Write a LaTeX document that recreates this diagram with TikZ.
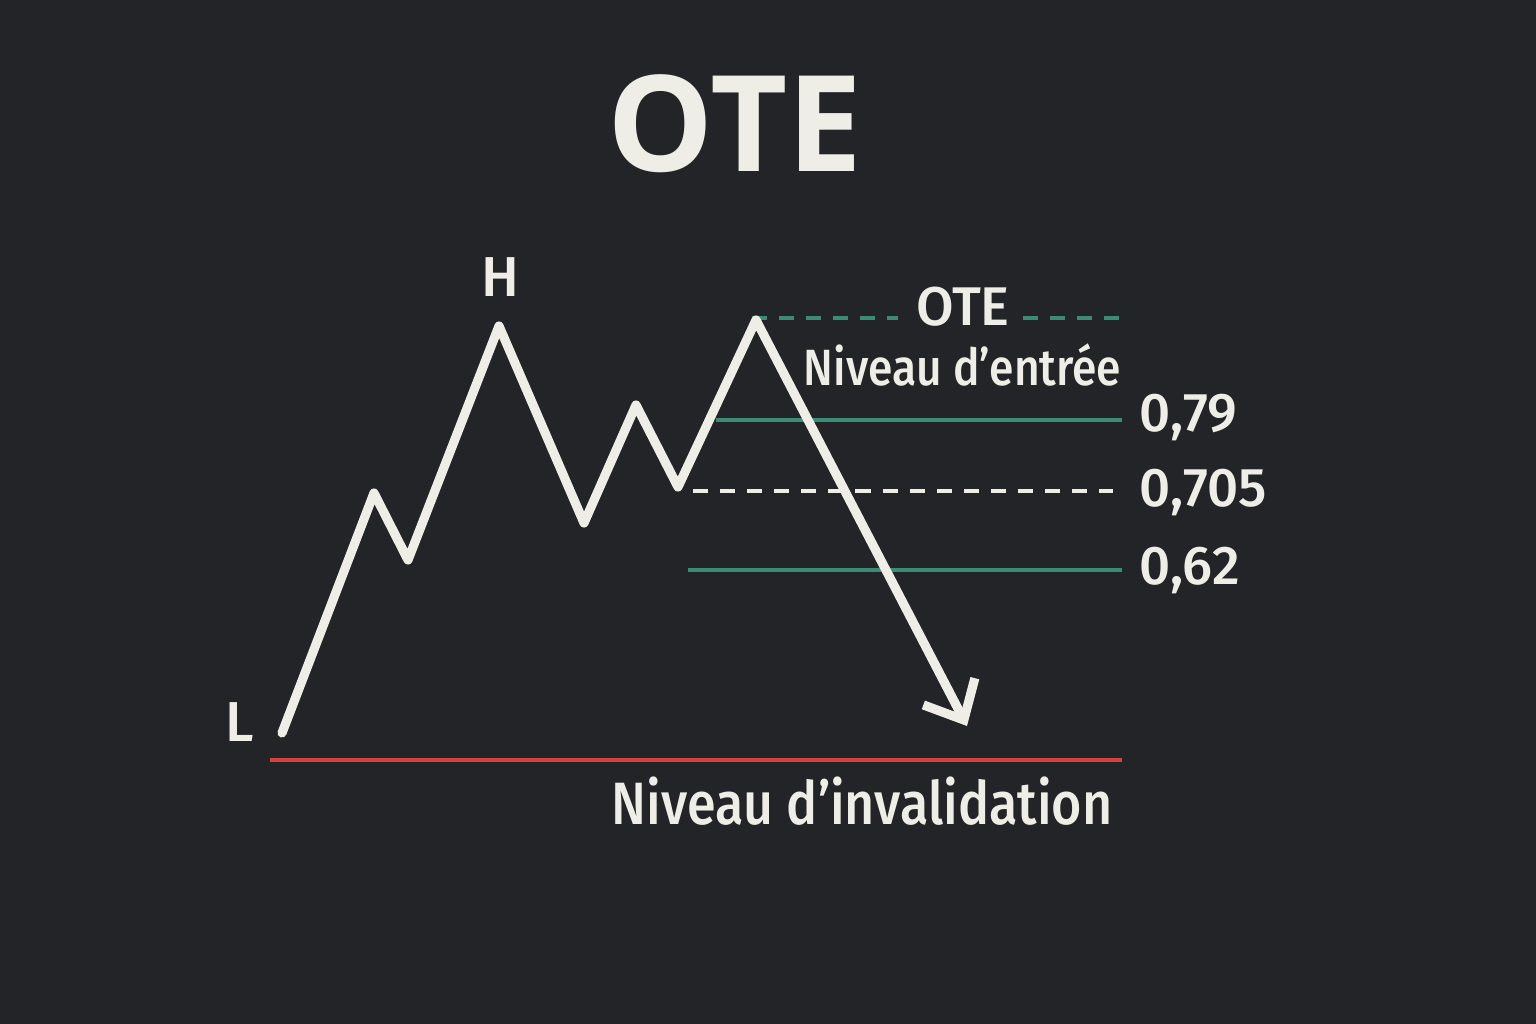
\documentclass[tikz,border=0pt]{standalone}
\usepackage{fontspec}
\setmainfont{Fira Sans}
\newfontfamily\titlefont{Open Sans}
\newfontfamily\labelfont{Fira Sans Medium}
\newfontfamily\textefont{Fira Sans Medium}[FakeStretch=0.87]
\usetikzlibrary{arrows.meta}
\definecolor{fond}{HTML}{232427}
\definecolor{craie}{HTML}{EFEEE6}
\definecolor{vert}{HTML}{3A8C74}
\definecolor{rouge}{HTML}{D9413F}
\tikzset{
  prix/.style={craie, line width=2.6pt, line cap=round, line join=round},
  niveau/.style={vert, line width=1.1pt},
  tirets/.style={line width=1.3pt, dash pattern=on 4.3pt off 3.4pt},
  etiq/.style={craie, inner sep=0pt, font=\labelfont\fontsize{15.5}{17}\selectfont},
}
\begin{document}
\begin{tikzpicture}[x=0.01cm, y=-0.01cm]
        \fill[fond] (0,0) rectangle (1536,1024);
        \useasboundingbox (0,0) rectangle (1536,1024);

        % Titre
        \node[craie, inner sep=0pt, font=\titlefont\bfseries\fontsize{38}{40}\selectfont] (titre) at (735,124) {OTE};

        % Points du prix
        \coordinate (L) at (282,733);
        \coordinate (a) at (374,493);
        \coordinate (b) at (408,560);
        \coordinate (H) at (499,326);
        \coordinate (c) at (584,523);
        \coordinate (d) at (636,405);
        \coordinate (e) at (678,487);
        \coordinate (P) at (756,320);
        \coordinate (F) at (967,726);

        % Niveaux
        \coordinate (otea) at (752,318);   \coordinate (oteb) at (898,318);
        \coordinate (otec) at (1023,318);  \coordinate (oted) at (1122,318);
        \coordinate (n79a) at (716,420);   \coordinate (n79b) at (1122,420);
        \coordinate (n705a) at (693,491);  \coordinate (n705b) at (1113,491);
        \coordinate (n62a) at (688,570);   \coordinate (n62b) at (1122,570);
        \coordinate (inva) at (270,760);   \coordinate (invb) at (1122,760);

        \draw[vert, tirets] (otea) -- (oteb);
        \draw[vert, tirets] (otec) -- (oted);
        \draw[niveau] (n79a) -- (n79b);
        \draw[craie, tirets] (n705a) -- (n705b);
        \draw[niveau] (n62a) -- (n62b);
        \draw[rouge, line width=1.3pt] (inva) -- (invb);

        % Trajectoire du prix
        \draw[prix, -{Straight Barb[length=3.2mm, width=5.8mm, line width=2.6pt]}]
            (L) -- (a) -- (b) -- (H) -- (c) -- (d) -- (e) -- (P) -- (F);

        % Etiquettes
        \node[etiq] (ote) at (963,307) {OTE};
        \node[etiq, anchor=east, font=\textefont\fontsize{14.5}{16}\selectfont] (entree) at (1122,365) {Niveau d’entrée};
        \node[etiq, anchor=west] (v79) at (1139,418) {0,79};
        \node[etiq, anchor=west] (v705) at (1139,493) {0,705};
        \node[etiq, anchor=west] (v62) at (1139,571) {0,62};
        \node[etiq, anchor=east, font=\textefont\fontsize{17}{19}\selectfont] (inval) at (1113,801) {Niveau d’invalidation};
        \node[etiq, font=\labelfont\fontsize{16}{18}\selectfont] (labH) at (500,277) {H};
        \node[etiq, font=\labelfont\fontsize{16}{18}\selectfont] (labL) at (240,722) {L};
\end{tikzpicture}
\end{document}
